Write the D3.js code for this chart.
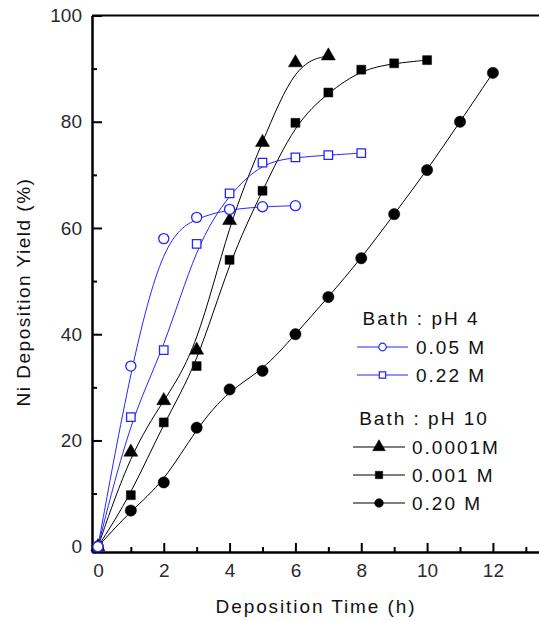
<!DOCTYPE html>
<html>
<head>
<meta charset="utf-8">
<script src="https://cdn.jsdelivr.net/npm/d3@7"></script>
<style>
  body { margin: 0; background: #fff; }
  svg { display: block; }
  text { font-family: Arial, "Liberation Sans", sans-serif; }
</style>
</head>
<body>
<div id="chart"></div>
<script>
// Bath pH 4
const time005 = [0, 1, 2, 3, 4, 5, 6];
const yield005 = [0, 34, 58, 62, 63.5, 64, 64.2];
const time022 = [0, 1, 2, 3, 4, 5, 6, 7, 8];
const yield022 = [0, 24.4, 37, 57, 66.5, 72.3, 73.3, 73.7, 74.1];
// Bath pH 10
const time00001 = [0, 1, 2, 3, 4, 5, 6, 7];
const yield00001 = [0, 17.8, 27.5, 37, 61.4, 76.1, 91.1, 92.4];
const time0001 = [0, 1, 2, 3, 4, 5, 6, 7, 8, 9, 10];
const yield0001 = [0, 9.7, 23.4, 34, 54, 67, 79.8, 85.5, 89.8, 91, 91.6];
const time020 = [0, 1, 2, 3, 4, 5, 6, 7, 8, 9, 10, 11, 12];
const yield020 = [0, 6.8, 12.1, 22.4, 29.6, 33.1, 40, 47, 54.3, 62.6, 70.9, 80, 89.2];

const seriesLabels = ["0.05 M", "0.22 M", "0.0001M", "0.001 M", "0.20 M"];
const groupTitles = ["Bath : pH 4", "Bath : pH 10"];
const xMajorTicks = [0, 2, 4, 6, 8, 10, 12];
const xMinorTicks = [1, 3, 5, 7, 9, 11, 13];
const yMajorTicks = [0, 20, 40, 60, 80, 100];
const yMinorTicks = [10, 30, 50, 70, 90];

const width = 539, height = 621;
const blue = "#2525ff";

const svg = d3.select("#chart").append("svg")
  .attr("width", width)
  .attr("height", height);

const x = d3.scaleLinear().domain([-0.18, 13.4]).range([92, 539]);
const y = d3.scaleLinear().domain([-1, 100]).range([552, 15.5]);

// axes
function styleAxis(g) {
  g.attr("font-size", 19).attr("font-family", "Arial, 'Liberation Sans', sans-serif");
  g.selectAll("path.domain").attr("stroke", "#000").attr("stroke-width", 2);
  g.selectAll(".tick line").attr("stroke", "#000").attr("stroke-width", 2);
  g.selectAll(".tick text").attr("fill", "#2a2a33");
}

svg.append("g")
  .attr("transform", "translate(0,552)")
  .call(d3.axisBottom(x).tickValues(xMajorTicks).tickSizeInner(-9).tickSizeOuter(0).tickPadding(11.5))
  .call(styleAxis);
svg.append("g")
  .attr("transform", "translate(0,552)")
  .call(d3.axisBottom(x).tickValues(xMinorTicks).tickSizeInner(-5).tickSizeOuter(0).tickFormat(""))
  .call(styleAxis);

svg.append("g")
  .attr("transform", "translate(92,0)")
  .call(d3.axisLeft(y).tickValues(yMajorTicks).tickSizeInner(-10).tickSizeOuter(0).tickPadding(10))
  .call(styleAxis);
svg.append("g")
  .attr("transform", "translate(92,0)")
  .call(d3.axisLeft(y).tickValues(yMinorTicks).tickSizeInner(-5).tickSizeOuter(0).tickFormat(""))
  .call(styleAxis);

// top frame line
svg.append("line")
  .attr("x1", x.range()[0]).attr("x2", x.range()[1])
  .attr("y1", y.range()[1]).attr("y2", y.range()[1])
  .attr("stroke", "#000").attr("stroke-width", 2);

// axis titles
svg.append("text")
  .attr("x", 316).attr("y", 613)
  .attr("text-anchor", "middle")
  .attr("font-size", 19)
  .attr("letter-spacing", 1.9)
  .attr("fill", "#111")
  .text("Deposition Time (h)");

svg.append("text")
  .attr("transform", "translate(30,292) rotate(-90)")
  .attr("text-anchor", "middle")
  .attr("font-size", 19)
  .attr("letter-spacing", 1.5)
  .attr("fill", "#111")
  .text("Ni Deposition Yield (%)");

// symbols
const sym = {
  circle: d3.symbolCircle,
  square: d3.symbolSquare,
  triangle: d3.symbolTriangle
};

const series = [
  { t: time005, v: yield005, color: blue, shape: "circle", open: true, size: 80 },
  { t: time022, v: yield022, color: blue, shape: "square", open: true, size: 72 },
  { t: time00001, v: yield00001, color: "#000", shape: "triangle", open: false, size: 85 },
  { t: time0001, v: yield0001, color: "#000", shape: "square", open: false, size: 80 },
  { t: time020, v: yield020, color: "#000", shape: "circle", open: false, size: 100 }
];

// B-spline through the data, as in the original plot
const line = d3.line()
  .x(d => x(d[0]))
  .y(d => y(d[1]))
  .curve(d3.curveBasis);

// draw black series first, blue on top
const drawOrder = [4, 3, 2, 1, 0];
drawOrder.forEach(i => {
  const s = series[i];
  const pts = s.t.map((t, j) => [t, s.v[j]]);
  svg.append("path")
    .datum(pts)
    .attr("d", line)
    .attr("fill", "none")
    .attr("stroke", s.color)
    .attr("stroke-width", 1);
});
drawOrder.forEach(i => {
  const s = series[i];
  const pts = s.t.map((t, j) => [t, s.v[j]]);
  svg.append("g").selectAll("path")
    .data(pts)
    .enter().append("path")
    .attr("transform", d => "translate(" + x(d[0]) + "," + y(d[1]) + ")")
    .attr("d", d3.symbol().type(sym[s.shape]).size(s.size))
    .attr("fill", s.open ? "#fff" : s.color)
    .attr("stroke", s.color)
    .attr("stroke-width", s.open ? 1.3 : 0.5);
});

// legend
const legend = svg.append("g").attr("font-size", 19).attr("letter-spacing", 2);
legend.append("text").attr("x", 421).attr("y", 325).attr("text-anchor", "middle")
  .attr("fill", "#111").text(groupTitles[0]);
legend.append("text").attr("x", 424).attr("y", 425).attr("text-anchor", "middle")
  .attr("fill", "#111").text(groupTitles[1]);

const legendRows = [
  { y: 347, x0: 357, x1: 408, tx: 416, size: 45 },
  { y: 375, x0: 357, x1: 408, tx: 416, size: 40 },
  { y: 447, x0: 353, x1: 405, tx: 412, size: 70 },
  { y: 475, x0: 353, x1: 405, tx: 412, size: 55 },
  { y: 503, x0: 353, x1: 405, tx: 412, size: 60 }
];
legendRows.forEach((r, i) => {
  const s = series[i];
  legend.append("line")
    .attr("x1", r.x0).attr("x2", r.x1).attr("y1", r.y).attr("y2", r.y)
    .attr("stroke", s.color).attr("stroke-width", 1.2);
  legend.append("path")
    .attr("transform", "translate(" + (r.x0 + r.x1) / 2 + "," + r.y + ")")
    .attr("d", d3.symbol().type(sym[s.shape]).size(r.size))
    .attr("fill", s.open ? "#fff" : s.color)
    .attr("stroke", s.color)
    .attr("stroke-width", s.open ? 1.2 : 0.5);
  legend.append("text")
    .attr("x", r.tx).attr("y", r.y + 7)
    .attr("fill", "#111")
    .text(seriesLabels[i]);
});
</script>
</body>
</html>
